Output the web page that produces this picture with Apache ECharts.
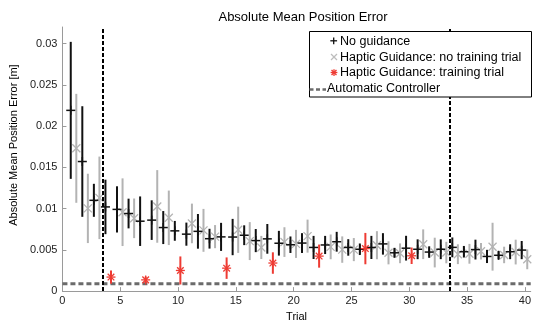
<!DOCTYPE html>
<html><head><meta charset="utf-8">
<script src="https://cdn.jsdelivr.net/npm/echarts@6/dist/echarts.min.js"></script>
<style>html,body{margin:0;padding:0;background:#fff}#c{width:534px;height:327px}</style>
</head><body><div id="c"></div>
<script>
// ---- data ----
const trials = [1,2,3,4,5,6,7,8,9,10,11,12,13,14,15,16,17,18,19,20,21,22,23,24,25,26,27,28,29,30,31,32,33,34,35,36,37,38,39,40];
const ngMean = [0.0219,0.0157,0.0110,0.0102,0.0099,0.0094,0.00847,0.0086,0.0077,0.0073,0.0069,0.00724,0.00635,0.00657,0.00655,0.00677,0.00612,0.00633,0.0058,0.00562,0.00582,0.00529,0.00559,0.00598,0.00529,0.00507,0.00529,0.00572,0.00464,0.0052,0.00507,0.00473,0.00507,0.0053,0.00477,0.00503,0.0042,0.00434,0.00477,0.00497];
const ngErr  = [0.0083,0.0067,0.0020,0.0033,0.0028,0.0018,0.0030,0.0024,0.0020,0.0012,0.0014,0.0021,0.0012,0.0017,0.0022,0.0012,0.0014,0.0018,0.0015,0.0010,0.0012,0.0014,0.0011,0.0012,0.0010,0.0007,0.0014,0.0013,0.0006,0.0015,0.0012,0.0007,0.0012,0.0012,0.0007,0.0012,0.0008,0.0005,0.0009,0.0011];
const hgTrials = [1,2,3,5,6,8,9,11,12,13,15,16,17,19,20,21,23,24,25,27,28,29,31,32,33,34,35,36,37,38,39,40];
const hgMean = [0.0173,0.01002,0.0113,0.00956,0.00882,0.01026,0.00888,0.0082,0.00736,0.0066,0.00743,0.00606,0.00529,0.00594,0.00572,0.00666,0.00536,0.00503,0.00503,0.00556,0.00464,0.00458,0.00568,0.00467,0.00467,0.00447,0.00452,0.00483,0.00538,0.00438,0.00473,0.00385];
const hgErr  = [0.0066,0.0042,0.0050,0.0041,0.0024,0.0044,0.0033,0.0024,0.0026,0.0014,0.0028,0.0023,0.0014,0.0018,0.0017,0.0020,0.0015,0.0016,0.0014,0.0017,0.0014,0.0012,0.0018,0.0018,0.0013,0.0012,0.0012,0.0010,0.0029,0.0010,0.0015,0.0012];
const trTrials = [4,7,10,14,18,22,26,30];
const trMean = [0.0017,0.00136,0.0025,0.00278,0.0034,0.00424,0.00515,0.00428];
const trErr  = [0.0008,0.0004,0.0017,0.0013,0.0013,0.0014,0.0019,0.0010];
const autoLevel = 0.00089;
const phaseBounds = [3.5, 33.5];
const xTicks = [0,5,10,15,20,25,30,35,40];
const yTicks = [0,0.005,0.01,0.015,0.02,0.025,0.03];
const xMax = 40.5, yMax = 0.032;
const ngOffset = -0.28, hgOffset = 0.2;

const names = ['No guidance','Haptic Guidance: no training trial','Haptic Guidance: training trial','Automatic Controller'];
const C_BLACK = '#111111', C_GRAY = '#b3b3b3', C_RED = '#ee3b33', C_AUTO = '#6b6b6b';
const FONT = '"Liberation Sans", Arial, sans-serif';

function markerLines(kind, cx, cy, color) {
  const L = [];
  const seg = (x1,y1,x2,y2,w) => L.push({type:'line', shape:{x1:cx+x1,y1:cy+y1,x2:cx+x2,y2:cy+y2}, style:{stroke:color,lineWidth:w}});
  if (kind === 'plus') { seg(-4.5,0,4.5,0,1.5); seg(0,-4.5,0,4.5,1.5); }
  else if (kind === 'x') { seg(-4,-4,4,4,1.3); seg(-4,4,4,-4,1.3); }
  else { seg(-4.5,0,4.5,0,1.3); seg(0,-4.5,0,4.5,1.3); seg(-3.3,-3.3,3.3,3.3,1.3); seg(-3.3,3.3,3.3,-3.3,1.3); }
  return L;
}
function makeRender(kind, color) {
  return function (params, api) {
    const x = api.value(0), m = api.value(1), e = api.value(2);
    const c = api.coord([x, m]);
    const t = api.coord([x, m + e]);
    const b = api.coord([x, Math.max(0, m - e)]);
    const children = [{type:'line', shape:{x1:c[0],y1:t[1],x2:c[0],y2:b[1]}, style:{stroke:color,lineWidth:2}}]
      .concat(markerLines(kind, c[0], c[1], color));
    return {type:'group', children};
  };
}
const ngData = trials.map((t,i) => [t + ngOffset, ngMean[i], ngErr[i]]);
const hgData = hgTrials.map((t,i) => [t + hgOffset, hgMean[i], hgErr[i]]);
const trData = trTrials.map((t,i) => [t + hgOffset, trMean[i], trErr[i]]);

// legend drawn as graphic
const lg = [];
lg.push({type:'rect', shape:{x:309.5,y:31.5,width:222,height:65.5}, style:{fill:'#fff',stroke:'#000',lineWidth:1}, z:100});
const lgY = [41.5, 57.3, 73, 89];
const lgText = (txt, x, y) => lg.push({type:'text', x:x, y:y, z:101, style:{text:txt, font:'12.5px ' + FONT, fill:'#000', verticalAlign:'middle', align:'left'}});
lgText(names[0], 340, lgY[0]);
lgText(names[1], 340, lgY[1]);
lgText(names[2], 340, lgY[2]);
lgText(names[3], 327, lgY[3]);
function lgMarker(kind, cx, cy, color, s) {
  markerLines(kind, 0, 0, color).forEach(el => {
    const sh = el.shape;
    lg.push({type:'line', z:101, shape:{x1:cx+sh.x1*s,y1:cy+sh.y1*s,x2:cx+sh.x2*s,y2:cy+sh.y2*s}, style:{stroke:color,lineWidth:1.3}});
  });
}
lgMarker('plus', 333.7, 40.8, C_BLACK, 0.75);
lgMarker('x', 334, 57, '#bdbdbd', 0.75);
lgMarker('star', 334, 72.5, C_RED, 0.75);
lg.push({type:'line', z:101, shape:{x1:309.5,y1:89.5,x2:326,y2:89.5}, style:{stroke:C_AUTO,lineWidth:2.5,lineDash:[4,2.5]}});

const chart = echarts.init(document.getElementById('c'), null, {renderer:'canvas'});
chart.setOption({
  animation:false,
  backgroundColor:'#fff',
  title:{text:'Absolute Mean Position Error', left:298, top:6, textAlign:'center',
    textStyle:{fontFamily:FONT, fontSize:13, fontWeight:'normal', color:'#000'}},
  grid:{left:58, right:1, top:27, bottom:29.5, containLabel:false},
  xAxis:{type:'value', min:0, max:xMax,
    name:'Trial', nameLocation:'middle', nameGap:14,
    nameTextStyle:{fontFamily:FONT, fontSize:11, color:'#000'},
    axisLine:{show:true, onZero:false, lineStyle:{color:'#9a9a9a', width:1}},
    axisTick:{show:true, inside:true, length:4, customValues:xTicks, lineStyle:{color:'#9a9a9a'}},
    axisLabel:{customValues:xTicks, margin:4, fontFamily:FONT, fontSize:11, color:'#222'},
    splitLine:{show:false}},
  yAxis:{type:'value', min:0, max:yMax,
    name:'Absolute Mean Position Error [m]', nameLocation:'middle', nameGap:43,
    nameTextStyle:{fontFamily:FONT, fontSize:11, color:'#000', padding:[0,0,0,28]},
    axisLine:{show:true, lineStyle:{color:'#9a9a9a', width:1}},
    axisTick:{show:true, inside:true, length:4, customValues:yTicks, lineStyle:{color:'#9a9a9a'}},
    axisLabel:{customValues:yTicks, margin:5, fontFamily:FONT, fontSize:11, color:'#222',
      formatter: v => String(+(+v).toFixed(4))},
    splitLine:{show:false}},
  series:[
    {name:names[1], type:'custom', renderItem:makeRender('x', C_GRAY), data:hgData, itemStyle:{color:C_GRAY}, z:2},
    {name:names[0], type:'custom', renderItem:makeRender('plus', C_BLACK), data:ngData, itemStyle:{color:C_BLACK}, z:3},
    {name:names[2], type:'custom', renderItem:makeRender('star', C_RED), data:trData, itemStyle:{color:C_RED}, z:4},
    {name:names[3], type:'line', data:[[0, autoLevel],[xMax, autoLevel]], showSymbol:false, symbol:'none',
      lineStyle:{color:C_AUTO, width:3, type:[5,3]}, z:1,
      markLine:{silent:true, symbol:['none','none'], label:{show:false},
        lineStyle:{color:'#000', width:2, type:[4,2]},
        data: phaseBounds.map(v => ({xAxis:v}))}}
  ],
  graphic: lg
});
</script></body></html>
